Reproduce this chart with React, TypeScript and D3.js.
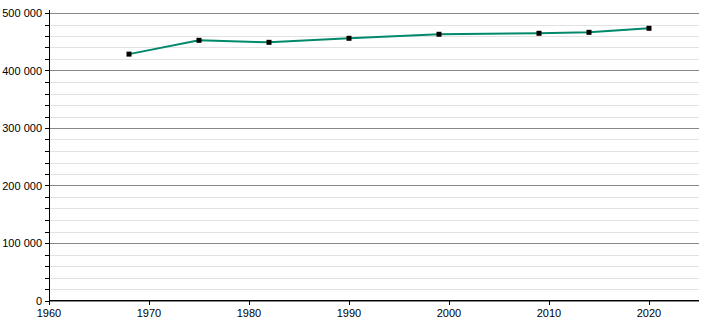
import React from "react";
import * as d3 from "d3";

const years = [1968, 1975, 1982, 1990, 1999, 2009, 2014, 2020];
const population = [428500, 452500, 449000, 456000, 463000, 464700, 466400, 473400];
const yMajorTicks = [0, 100000, 200000, 300000, 400000, 500000];
const xTicks = [1960, 1970, 1980, 1990, 2000, 2010, 2020];

const W = 710;
const H = 320;

export default function App() {
  const x = d3.scaleLinear().domain([1960, 2025]).range([49, 699]);
  const y = d3.scaleLinear().domain([0, 500000]).range([300.5, 13]);
  const minor = d3.range(0, 500001, 20000);
  const fmt = (v: number) => d3.format(",")(v).replace(/,/g, " ");
  const line = d3
    .line<number>()
    .x((_, i) => x(years[i]))
    .y((d) => y(d));
  const font = "'Liberation Sans', Arial, sans-serif";
  return (
    <svg
      width={W}
      height={H}
      style={{ position: "absolute", left: 0, top: 0 }}
      fontFamily={font}
    >
      <rect width={W} height={H} fill="#fff" />
      {minor.map((v) => (
        <line
          key={"mg" + v}
          x1={49}
          x2={699}
          y1={Math.round(y(v)) + 0.5}
          y2={Math.round(y(v)) + 0.5}
          stroke="#e2e2e2"
          strokeWidth={1}
        />
      ))}
      {yMajorTicks.map((v) => (
        <line
          key={"g" + v}
          x1={49}
          x2={699}
          y1={Math.round(y(v)) + 0.5}
          y2={Math.round(y(v)) + 0.5}
          stroke="#888"
          strokeWidth={1}
        />
      ))}
      {minor.map((v) => (
        <line
          key={"t" + v}
          x1={45}
          x2={49}
          y1={Math.round(y(v)) + 0.5}
          y2={Math.round(y(v)) + 0.5}
          stroke="#000"
        />
      ))}
      <line x1={49.5} x2={49.5} y1={10} y2={301} stroke="#000" />
      <line x1={49} x2={699} y1={300.5} y2={300.5} stroke="#000" />
      {xTicks.map((v) => (
        <g key={"x" + v}>
          <line
            x1={Math.round(x(v)) + 0.5}
            x2={Math.round(x(v)) + 0.5}
            y1={300}
            y2={305}
            stroke="#000"
          />
          <text x={x(v)} y={317} textAnchor="middle" fontSize={11} fill="#000">
            {v}
          </text>
        </g>
      ))}
      {yMajorTicks.map((v) => (
        <text
          key={"yl" + v}
          x={42}
          y={y(v) + 4}
          textAnchor="end"
          fontSize={11}
          fill="#000"
        >
          {fmt(v)}
        </text>
      ))}
      <path
        d={line(population) || ""}
        fill="none"
        stroke="#00896b"
        strokeWidth={2}
      />
      {population.map((v, i) => (
        <rect
          key={"p" + i}
          x={x(years[i]) - 2.5}
          y={y(v) - 2.5}
          width={5}
          height={5}
          fill="#000"
        />
      ))}
    </svg>
  );
}
